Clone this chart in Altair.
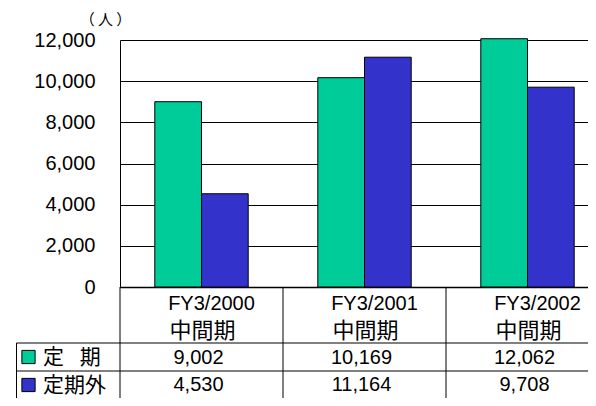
import altair as alt
import pandas as pd

# ---------------- data ----------------
periods = ["FY3/2000", "FY3/2001", "FY3/2002"]
period_sub = ["中間期", "中間期", "中間期"]
series = ["定\u2002\u2005期", "定期外"]
regular = [9002, 10169, 12062]
irregular = [4530, 11164, 9708]
colors = ["#00CC99", "#3333CC"]
y_ticks = [0, 2000, 4000, 6000, 8000, 10000, 12000]
unit_label = "（ 人 ）"

LATIN = "'Liberation Sans', 'Noto Sans CJK JP'"
CJK = "'Noto Sans CJK JP'"

values_by_series = [regular, irregular]
bar_rows = []
for i, p in enumerate(periods):
    for s, vals in zip(series, values_by_series):
        bar_rows.append({"period": p, "series": s, "value": vals[i]})
bars_df = pd.DataFrame(bar_rows)

row_keys = ["fy", "mid", "r1", "r2"]
series_rows = ["r1", "r2"]

fy_df = pd.DataFrame({"period": periods, "row": "fy", "text": periods})
mid_df = pd.DataFrame({"period": periods, "row": "mid", "text": period_sub})
val_rows = []
for s, r, vals in zip(series, series_rows, values_by_series):
    for p, v in zip(periods, vals):
        val_rows.append({"period": p, "row": r, "text": f"{v:,}"})
val_df = pd.DataFrame(val_rows)
legend_df = pd.DataFrame({"row": series_rows, "series": series})
legend_label_df = pd.DataFrame({"row": ["r1"], "text": ["\n".join(series)]})

# ---------------- layout ----------------
PAD_L, PAD_T = 112, 32
SVG_W, SVG_H = 580, 390
W = SVG_W - PAD_L          # visible plot width (chart runs on past the window edge)
FULL_W = 489               # full width of the three category columns
H_TOP = 247
ROW_H = 28
H_TAB = ROW_H * len(row_keys)
PAD_B = SVG_H - PAD_T - H_TOP

color_scale = alt.Scale(domain=series, range=colors)

# ---------------- bars ----------------
bars = alt.Chart(bars_df).mark_bar(stroke="black", strokeWidth=1).encode(
    x=alt.X("period:N", sort=periods,
            scale=alt.Scale(paddingInner=0.427, paddingOuter=0.2135, range=[0, FULL_W]),
            axis=alt.Axis(labels=False, ticks=False, domain=True, domainColor="black",
                          domainWidth=1.5, grid=False, title=None)),
    xOffset=alt.XOffset("series:N", sort=series,
                        scale=alt.Scale(paddingInner=0, paddingOuter=0)),
    y=alt.Y("value:Q", scale=alt.Scale(domain=[0, 12000], nice=False),
            axis=alt.Axis(values=y_ticks, format=",d", labelFont=LATIN, labelFontSize=20,
                          labelColor="black", labelPadding=25, ticks=False,
                          domain=True, domainColor="black", domainWidth=1,
                          grid=True, gridColor="black", gridWidth=1,
                          title=unit_label, titleAngle=0, titleX=-15, titleY=-21,
                          titleAlign="center", titleBaseline="middle", titleFont=CJK,
                          titleFontSize=15, titleFontWeight="normal", titleColor="black")),
    color=alt.Color("series:N", sort=series, scale=color_scale, legend=None),
)

# ---------------- table ----------------
tab_x_scale = alt.Scale(paddingInner=0, paddingOuter=0, range=[0, FULL_W])
tab_y_scale = alt.Scale(domain=row_keys, paddingInner=0, paddingOuter=0,
                        range=[H_TOP, H_TOP + H_TAB])
tx = alt.X("period:N", sort=periods, scale=tab_x_scale, axis=None)
ty = alt.Y("row:N", sort=row_keys, scale=tab_y_scale, axis=None)

fy_text = alt.Chart(fy_df).mark_text(font=LATIN, fontSize=20, color="black", dx=10, dy=3,
                                     baseline="middle").encode(x=tx, y=ty, text="text:N")
mid_text = alt.Chart(mid_df).mark_text(font=CJK, fontSize=22, color="black", dx=1, dy=2,
                                       baseline="middle").encode(x=tx, y=ty, text="text:N")
r1_text = alt.Chart(val_df[val_df["row"] == "r1"]).mark_text(
    font=LATIN, fontSize=20, color="black", dx=-3, dy=1, baseline="middle").encode(
    x=tx, y=ty, text="text:N")
r2_text = alt.Chart(val_df[val_df["row"] == "r2"]).mark_text(
    font=LATIN, fontSize=20, color="black", dx=-3, dy=0, baseline="middle").encode(
    x=tx, y=ty, text="text:N")

vlines = alt.Chart(pd.DataFrame({"period": periods})).mark_rule(color="black", strokeWidth=1).encode(
    x=alt.X("period:N", sort=periods, bandPosition=0, scale=tab_x_scale, axis=None),
    y=alt.value(H_TOP), y2=alt.value(H_TOP + H_TAB))

hlines = alt.Chart(pd.DataFrame({"row": series_rows})).mark_rule(color="black", strokeWidth=1).encode(
    y=alt.Y("row:N", sort=row_keys, bandPosition=0, scale=tab_y_scale, axis=None),
    x=alt.value(-103.5), x2=alt.value(FULL_W))

legend_border = alt.Chart(pd.DataFrame({"row": ["r1"]})).mark_rule(color="black", strokeWidth=1).encode(
    y=alt.Y("row:N", sort=row_keys, bandPosition=0, scale=tab_y_scale, axis=None),
    y2=alt.value(H_TOP + H_TAB), x=alt.value(-103.5))

swatches = alt.Chart(legend_df).mark_square(
    size=175, opacity=1, stroke="black", strokeWidth=1, filled=True, yOffset=0).encode(
    x=alt.value(-91.5), y=ty,
    color=alt.Color("series:N", sort=series, scale=color_scale, legend=None))

legend_labels = alt.Chart(legend_label_df).mark_text(
    font=CJK, fontSize=21, color="black", align="left", baseline="alphabetic",
    lineBreak="\n", lineHeight=ROW_H, dy=6.5).encode(
    x=alt.value(-77), y=ty, text="text:N")

chart = alt.layer(
    bars, vlines, hlines, legend_border, fy_text, mid_text, r1_text, r2_text,
    swatches, legend_labels
).resolve_scale(
    x="independent", y="independent"
).properties(
    width=W, height=H_TOP,
    autosize=alt.AutoSizeParams(type="none"),
    padding={"left": PAD_L, "top": PAD_T, "right": 0, "bottom": PAD_B},
).configure_view(stroke=None)

chart.save("out.html", embed_options={"renderer": "svg", "actions": False})
